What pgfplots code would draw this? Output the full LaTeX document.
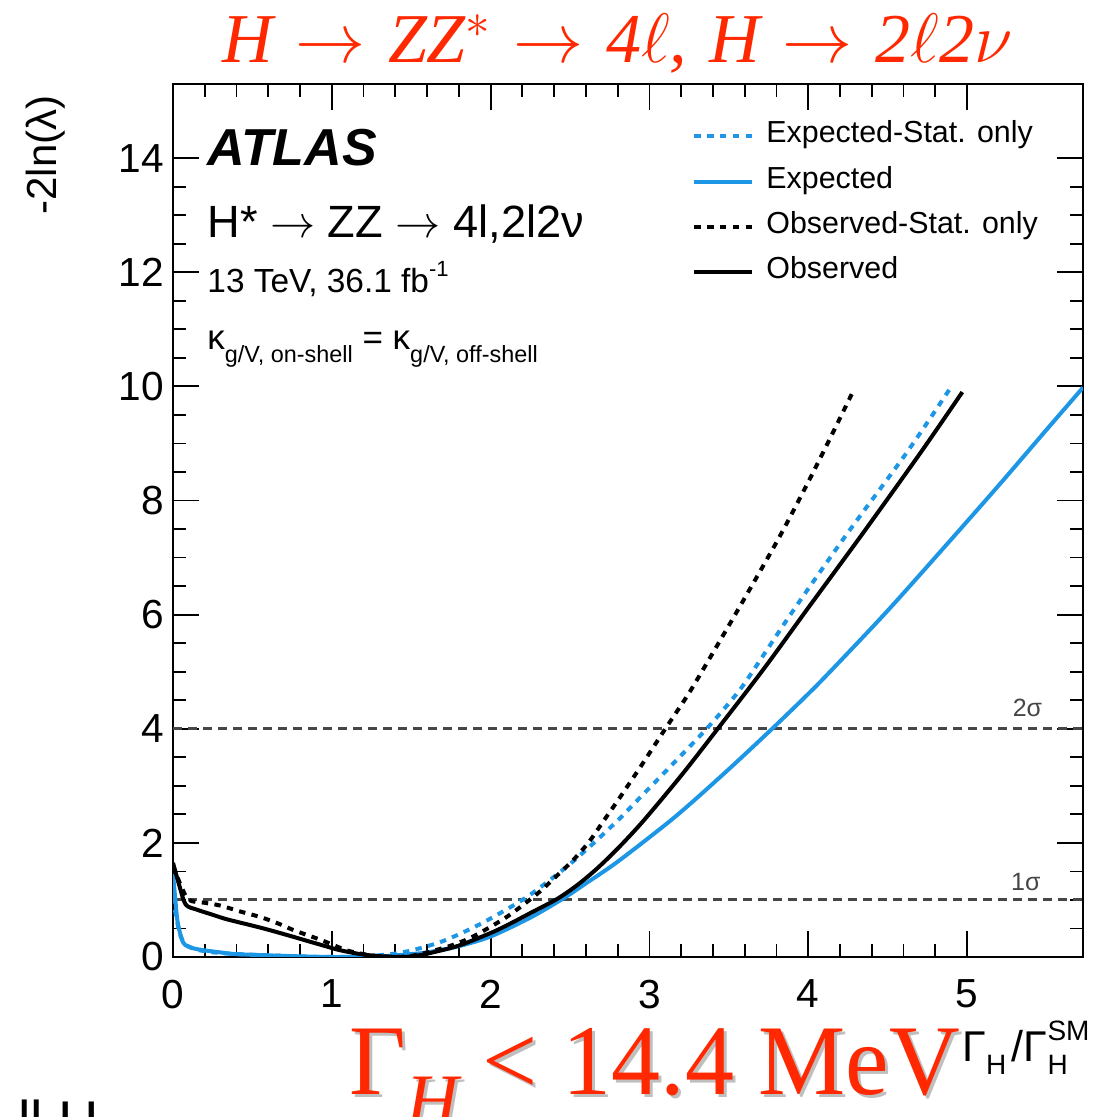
\RequirePackage{fix-cm}
\documentclass[border=0pt]{standalone}
\usepackage{fontspec}
\setmainfont{Liberation Sans}
\newfontfamily\tnr{Liberation Serif}
\usepackage{pgfplots}
\pgfplotsset{compat=1.18}
\definecolor{atlasblue}{RGB}{30,150,230}
\definecolor{titlered}{RGB}{255,40,0}
\definecolor{lgray}{RGB}{70,70,70}

\pgfplotstableread{
x y
0 1.45
0.015 1.0
0.03 0.6
0.065 0.25
0.12 0.16
0.19 0.12
0.3 0.08
0.4 0.05
0.7 0.02
1.0 0.0
1.3 0.01
1.45 0.04
1.6 0.08
1.8 0.19
2.0 0.36
2.25 0.69
2.46 1.03
2.6 1.29
2.77 1.61
2.95 1.99
3.15 2.43
3.32 2.84
3.55 3.42
3.78 4.02
3.97 4.53
4.12 4.95
4.5 6.07
4.91 7.35
5.21 8.3
5.5 9.24
5.73 9.98
}\expected

\pgfplotstableread{
x y
0 1.05
0.02 0.7
0.05 0.35
0.1 0.18
0.2 0.1
0.35 0.06
0.5 0.04
0.8 0.01
1.0 0.0
1.2 0.01
1.4 0.06
1.55 0.15
1.72 0.3
1.95 0.6
2.2 1.0
2.35 1.3
2.5 1.63
2.65 2.0
2.81 2.42
2.96 2.85
3.16 3.42
3.36 4.0
3.51 4.48
3.61 4.84
3.9 6.05
4.24 7.4
4.62 8.84
4.89 9.95
}\expstat

\pgfplotstableread{
x y
0 1.6
0.05 1.25
0.1 1.0
0.2 0.95
0.3 0.9
0.42 0.8
0.55 0.7
0.66 0.59
0.76 0.47
0.85 0.38
0.93 0.3
1.01 0.21
1.09 0.12
1.18 0.06
1.28 0.02
1.4 0.0
1.5 0.02
1.6 0.08
1.75 0.2
1.89 0.36
2.1 0.7
2.29 1.1
2.4 1.38
2.52 1.7
2.62 2.02
2.71 2.38
2.81 2.78
2.95 3.36
3.10 4.0
3.22 4.5
3.30 4.86
3.55 6.05
3.82 7.37
4.05 8.6
4.28 9.9
}\obsstat

\pgfplotstableread{
x y
0 1.65
0.04 1.25
0.08 0.92
0.15 0.83
0.25 0.74
0.34 0.66
0.5 0.55
0.61 0.47
0.75 0.36
0.86 0.27
0.96 0.19
1.05 0.12
1.18 0.05
1.3 0.015
1.45 0.0
1.55 0.03
1.65 0.09
1.8 0.2
2.0 0.42
2.12 0.58
2.25 0.77
2.42 1.02
2.55 1.27
2.67 1.55
2.8 1.9
2.96 2.38
3.2 3.18
3.43 4.0
3.72 5.05
4.0 6.12
4.35 7.45
4.71 8.85
4.97 9.9
}\observed

\begin{document}
\begin{tikzpicture}
\useasboundingbox (0,0) rectangle (548.5pt,558.5pt);
\begin{axis}[
  at={(86.5pt,80pt)}, anchor=south west,
  width=455pt, height=436.5pt, scale only axis,
  xmin=0, xmax=5.73, ymin=0, ymax=15.3,
  xtick={0,1,2,3,4,5}, ytick={0,2,...,14},
  minor x tick num=4, minor y tick num=3,
  tick align=inside,
  major tick length=13pt, minor tick length=6.5pt,
  axis line style={line width=1pt},
  tick style={line width=0.9pt, black},
  tick label style={font=\fontsize{20.3}{24}\selectfont},
  /pgf/number format/assume math mode=true,
  xticklabel style={yshift=-8pt},
  yticklabel style={xshift=-1pt},
  legend style={at={(0.5703,0.955)}, anchor=north west, draw=none, fill=none,
    font=\fontsize{15.2}{18}\selectfont, row sep=10.2pt, inner sep=0pt,
    nodes={inner sep=0pt, text height=9.5pt, text depth=3pt}},
  legend cell align=left,
  legend image code/.code={\draw[#1] (0pt,0pt) -- (29pt,0pt);},
]
\addplot[lgray, line width=1.5pt, dash pattern=on 4.5pt off 3pt, forget plot] coordinates {(0,4) (5.73,4)};
\addplot[lgray, line width=1.5pt, dash pattern=on 4.5pt off 3pt, forget plot] coordinates {(0,1) (5.73,1)};

\addplot[atlasblue, line width=2pt, dash pattern=on 3.2pt off 3.2pt, smooth, tension=0.5] table[x=x,y=y] {\expstat};
\addlegendentry{\hspace{6pt}Expected-Stat. only}
\addplot[atlasblue, line width=2pt, smooth, tension=0.5] table[x=x,y=y] {\expected};
\addlegendentry{\hspace{6pt}Expected}
\addplot[black, line width=2pt, dash pattern=on 3.2pt off 3.2pt, smooth, tension=0.5] table[x=x,y=y] {\obsstat};
\addlegendentry{\hspace{6pt}Observed-Stat. only}
\addplot[black, line width=2pt, smooth, tension=0.5] table[x=x,y=y] {\observed};
\addlegendentry{\hspace{6pt}Observed}

\node[lgray, font=\fontsize{12.5}{14}\selectfont] at (axis cs:5.38,4.37) {2σ};
\node[lgray, font=\fontsize{12.5}{14}\selectfont] at (axis cs:5.37,1.31) {1σ};

\node[anchor=base west, inner sep=0pt, font=\fontsize{26}{30}\selectfont\bfseries\itshape] at (rel axis cs:0.0374,0.907) {ATLAS};
\node[anchor=base west, inner sep=0pt, font=\fontsize{22.6}{26}\selectfont] at (rel axis cs:0.0374,0.8236) {H* $\rightarrow$ ZZ $\rightarrow$ 4l,2l2ν};
\node[anchor=base west, inner sep=0pt, font=\fontsize{16.7}{20}\selectfont] at (rel axis cs:0.0374,0.7617) {13 TeV, 36.1 fb\raisebox{0.45em}{\fontsize{11}{13}\selectfont -1}};
\node[anchor=base west, inner sep=0pt, font=\fontsize{17.5}{20}\selectfont] at (rel axis cs:0.0374,0.6953) {κ\raisebox{-0.35em}{\fontsize{11.7}{14}\selectfont g/V, on-shell} = κ\raisebox{-0.35em}{\fontsize{11.7}{14}\selectfont g/V, off-shell}};
\end{axis}

% y-axis title
\node[rotate=90, anchor=east, inner sep=0pt, font=\fontsize{21}{24}\selectfont] at (23pt,511pt) {-2ln(λ)};
% x-axis title
\node[anchor=base west, inner sep=0pt, font=\fontsize{21.5}{24}\selectfont] at (481pt,27.5pt) {Γ\rlap{\raisebox{-0.3em}{\fontsize{14}{16}\selectfont H}}\hspace{0.6em}/Γ\rlap{\raisebox{-0.3em}{\fontsize{14}{16}\selectfont H}}\raisebox{0.5em}{\fontsize{14}{16}\selectfont SM}};
% title
\node[anchor=base, inner sep=0pt, text=titlered, font=\tnr\itshape\fontsize{35}{40}\selectfont] at (308.75pt,527pt) {H\hspace{0.32em}$\rightarrow$\hspace{0.32em}ZZ$^*$\hspace{0.32em}$\rightarrow$\hspace{0.32em}4$\ell$,\hspace{0.32em}H\hspace{0.32em}$\rightarrow$\hspace{0.32em}2$\ell$2$\nu$};
% big result with shadow
\node[anchor=base west, inner sep=0pt, text=black!25, font=\tnr\fontsize{50}{56}\selectfont] at (176pt,9.5pt) {\scalebox{0.98}[1]{Γ\raisebox{-0.3em}{\itshape\fontsize{37}{42}\selectfont H} < 14.4 MeV}};
\node[anchor=base west, inner sep=0pt, text=titlered, font=\tnr\fontsize{50}{56}\selectfont] at (174.5pt,11pt) {\scalebox{0.98}[1]{Γ\raisebox{-0.3em}{\itshape\fontsize{37}{42}\selectfont H} < 14.4 MeV}};
% cut-off text at bottom left
\node[anchor=base west, inner sep=0pt, font=\fontsize{28}{32}\selectfont] at (9pt,-11.5pt) {ll H};
\end{tikzpicture}
\end{document}
